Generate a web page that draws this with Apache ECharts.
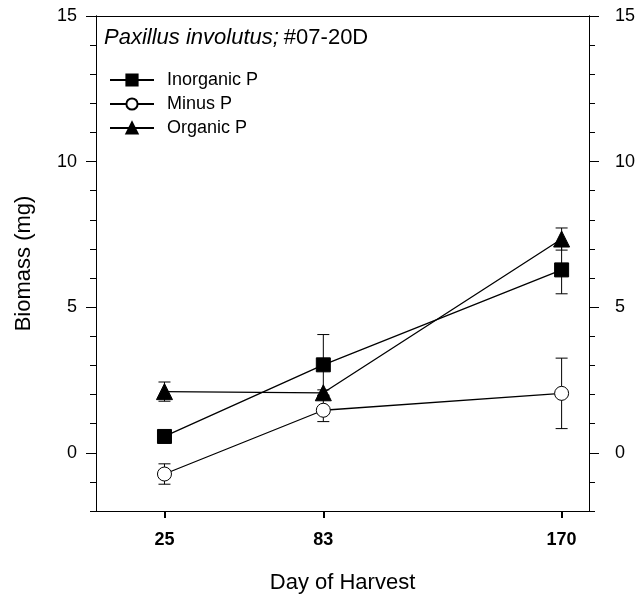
<!doctype html>
<html>
<head>
<meta charset="utf-8">
<title>Paxillus involutus biomass</title>
<script src="https://cdn.jsdelivr.net/npm/echarts@6/dist/echarts.min.js"></script>
<style>
  html, body { margin: 0; padding: 0; background: #fff; }
  #chart { width: 639px; height: 601px; }
</style>
</head>
<body>
<div id="chart"></div>
<script type="text/javascript">

var days = [25, 83, 170];
var seriesNames = ['Inorganic P', 'Minus P', 'Organic P'];

// mean biomass (mg) and error (+/-)
var inorganicMean = [0.56, 3.02, 6.28];
var inorganicErr  = [0.10, 1.04, 0.82];
var minusMean     = [-0.73, 1.46, 2.04];
var minusErr      = [0.35, 0.39, 1.21];
var organicMean   = [2.10, 2.06, 7.34];
var organicErr    = [0.33, 0.10, 0.38];

var yMajor = [0, 5, 10, 15];

var font = 'Liberation Sans, Arial, sans-serif';

function points(mean) {
    return days.map(function (d, i) { return [d, mean[i]]; });
}
function bars(mean, err) {
    return days.map(function (d, i) { return [d, mean[i] - err[i], mean[i] + err[i]]; });
}

function errorBar(params, api) {
    var x = api.value(0);
    var top = api.coord([x, api.value(2)]);
    var bot = api.coord([x, api.value(1)]);
    var w = 6;
    var st = { stroke: '#000', lineWidth: 1 };
    return {
        type: 'group',
        children: [
            { type: 'line', shape: { x1: top[0], y1: top[1], x2: bot[0], y2: bot[1] }, style: st },
            { type: 'line', shape: { x1: top[0] - w, y1: top[1], x2: top[0] + w, y2: top[1] }, style: st },
            { type: 'line', shape: { x1: bot[0] - w, y1: bot[1], x2: bot[0] + w, y2: bot[1] }, style: st }
        ]
    };
}

function errSeries(mean, err) {
    return {
        type: 'custom',
        renderItem: errorBar,
        data: bars(mean, err),
        encode: { x: 0, y: [1, 2] },
        z: 1,
        silent: true
    };
}

function lineSeries(name, mean, symbol, size, fill) {
    return {
        name: name,
        type: 'line',
        data: points(mean),
        symbol: symbol,
        symbolSize: size,
        showSymbol: true,
        lineStyle: { color: '#000', width: 1.3 },
        itemStyle: { color: fill, borderColor: '#000', borderWidth: 1 },
        z: 3,
        silent: true
    };
}

var chart = echarts.init(document.getElementById('chart'));

var axisLineStyle = { onZero: false, lineStyle: { color: '#000', width: 1 } };

var option = {
    animation: false,
    backgroundColor: '#fff',
    textStyle: { fontFamily: font, color: '#000' },
    title: {
        text: '{i|Paxillus involutus;} {n|#07-20D}',
        left: 104,
        top: 27,
        padding: 0,
        textStyle: {
            fontWeight: 'normal',
            rich: {
                i: { fontStyle: 'italic', fontWeight: 'normal', fontSize: 22, fontFamily: font, color: '#000' },
                n: { fontWeight: 'normal', fontSize: 22, fontFamily: font, color: '#000' }
            }
        }
    },
    legend: {
        orient: 'vertical',
        left: 109,
        top: 71,
        padding: 0,
        itemWidth: 44,
        itemHeight: 14,
        itemGap: 6,
        textStyle: { fontSize: 18, lineHeight: 18, fontFamily: font, color: '#000', padding: [0, 0, 0, 8] },
        data: seriesNames
    },
    grid: { left: 96, right: 50, top: 16, bottom: 90 },
    xAxis: [{
        type: 'value',
        min: 0,
        max: 180,
        position: 'bottom',
        name: 'Day of Harvest',
        nameLocation: 'middle',
        nameGap: 61,
        nameTextStyle: { fontSize: 22, fontFamily: font, color: '#000' },
        axisLine: axisLineStyle,
        axisTick: { show: true, customValues: days, length: 7, lineStyle: { color: '#000', width: 2 } },
        axisLabel: { customValues: days, margin: 20, fontSize: 18, fontWeight: 'bold', fontFamily: font, color: '#000' },
        splitLine: { show: false }
    }, {
        type: 'value',
        min: 0,
        max: 180,
        position: 'top',
        axisLine: axisLineStyle,
        axisTick: { show: false },
        axisLabel: { show: false },
        splitLine: { show: false }
    }],
    yAxis: [{
        type: 'value',
        min: -2,
        max: 15,
        interval: 1,
        position: 'left',
        name: 'Biomass (mg)',
        nameLocation: 'middle',
        nameGap: 61,
        nameTextStyle: { fontSize: 22, fontFamily: font, color: '#000' },
        axisLine: axisLineStyle,
        axisTick: { show: true, length: 6, lineStyle: { color: '#000' } },
        axisLabel: { customValues: yMajor, margin: 19, fontSize: 18, fontFamily: font, color: '#000' },
        splitLine: { show: false }
    }, {
        type: 'value',
        min: -2,
        max: 15,
        position: 'left',
        axisLine: axisLineStyle,
        axisTick: { show: true, customValues: yMajor, length: 10, lineStyle: { color: '#000' } },
        axisLabel: { show: false },
        splitLine: { show: false }
    }, {
        type: 'value',
        min: -2,
        max: 15,
        interval: 1,
        position: 'right',
        axisLine: axisLineStyle,
        axisTick: { show: true, length: 6, lineStyle: { color: '#000' } },
        axisLabel: { customValues: yMajor, margin: 26, fontSize: 18, fontFamily: font, color: '#000' },
        splitLine: { show: false }
    }, {
        type: 'value',
        min: -2,
        max: 15,
        position: 'right',
        axisLine: axisLineStyle,
        axisTick: { show: true, customValues: yMajor, length: 10, lineStyle: { color: '#000' } },
        axisLabel: { show: false },
        splitLine: { show: false }
    }],
    series: [
        errSeries(inorganicMean, inorganicErr),
        errSeries(minusMean, minusErr),
        errSeries(organicMean, organicErr),
        lineSeries('Inorganic P', inorganicMean, 'rect', 14, '#000'),
        lineSeries('Minus P', minusMean, 'circle', 14, '#fff'),
        lineSeries('Organic P', organicMean, 'triangle', 16, '#000')
    ]
};

chart.setOption(option);

</script>
</body>
</html>
